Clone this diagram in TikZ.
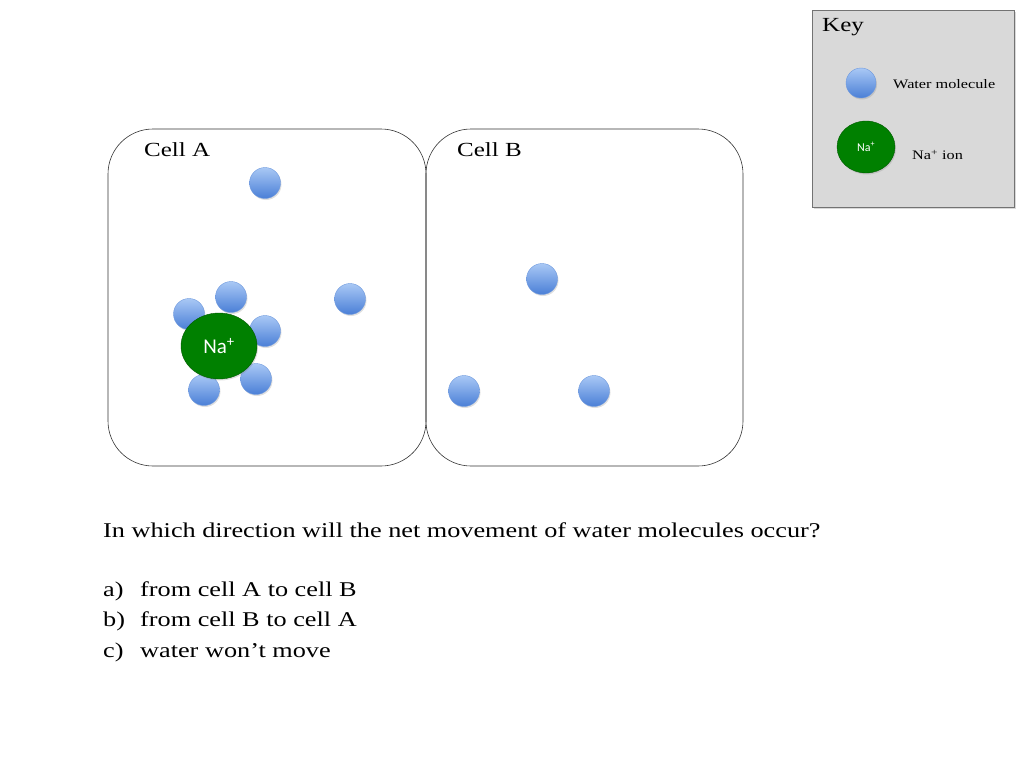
\documentclass[tikz,border=0pt]{standalone}
\usepackage{fontspec}
\setmainfont{Liberation Serif}[FakeStretch=1.25]
\newfontfamily\calib{Carlito}
\usetikzlibrary{shadows,shapes.geometric}
\definecolor{wtop}{HTML}{A9C8F5}
\definecolor{wbot}{HTML}{4A7FD6}
\begin{document}
\begin{tikzpicture}[x=1pt,y=-1pt,
 water/.style={circle,minimum size=31pt,inner sep=0pt,top color=wtop,bottom color=wbot,draw=wbot!80,line width=0.4pt,drop shadow={shadow xshift=1pt,shadow yshift=-1.5pt,opacity=0.25}},
 sodium/.style={ellipse,inner sep=0pt,fill=green!50!black,draw=green!35!black,text=white,font=\calib,drop shadow={shadow xshift=1pt,shadow yshift=-1.5pt,opacity=0.25}},
 cell/.style={draw=black!80,rounded corners=45pt,line width=0.6pt},
 lbl/.style={anchor=west,inner sep=0pt,font=\fontsize{20}{24}\selectfont}]
\useasboundingbox (0,0) rectangle (1024,768);
\node[draw=black!55,fill=black!15,minimum width=202pt,minimum height=197pt,anchor=north west,drop shadow={shadow xshift=1.5pt,shadow yshift=-1.5pt,opacity=0.3}] (key) at (812,10) {};
\node[lbl,font=\fontsize{20}{24}\selectfont] (keyt) at (822,27) {Key};
\node[water,minimum size=30pt] (kw) at (861,83) {};
\node[lbl,font=\fontsize{13}{16}\selectfont] (kwt) at (893,84) {Water molecule};
\node[sodium,minimum width=58pt,minimum height=52pt] (kn) at (866,147) {};
\node[font=\calib\fontsize{12}{14}\selectfont,text=white] (knt) at (866,147) {Na\textsuperscript{+}};
\node[lbl,font=\fontsize{13}{16}\selectfont] (knl) at (912,155) {Na\textsuperscript{+} ion};
\draw[cell] (108,129) rectangle (426,466);
\draw[cell] (426,129) rectangle (743,466);
\node[lbl] (ca) at (144,150) {Cell A};
\node[lbl] (cb) at (457,150) {Cell B};
\node[water] (w1) at (265,183) {};
\node[water] (w2) at (350,299) {};
\node[water] (w3) at (231,297) {};
\node[water] (w4) at (189,314) {};
\node[water] (w5) at (265,331) {};
\node[water] (w6) at (256,379) {};
\node[water] (w7) at (204,390) {};
\node[sodium,minimum width=76pt,minimum height=66pt,font=\calib\fontsize{21}{24}\selectfont] (na) at (219,346) {Na\textsuperscript{+}};
\node[water] (w8) at (542,279) {};
\node[water] (w9) at (464,391) {};
\node[water] (w10) at (594,391) {};
\node[lbl,font=\fontsize{21}{25}\selectfont] (q) at (103,530) {In which direction will the net movement of water molecules occur?};
\node[lbl,font=\fontsize{21}{25}\selectfont] (a) at (103,591) {\makebox[37pt][l]{a)}from cell A to cell B};
\node[lbl,font=\fontsize{21}{25}\selectfont] (b) at (103,621) {\makebox[37pt][l]{b)}from cell B to cell A};
\node[lbl,font=\fontsize{21}{25}\selectfont] (c) at (103,652) {\makebox[37pt][l]{c)}water won’t move};
\end{tikzpicture}
\end{document}
